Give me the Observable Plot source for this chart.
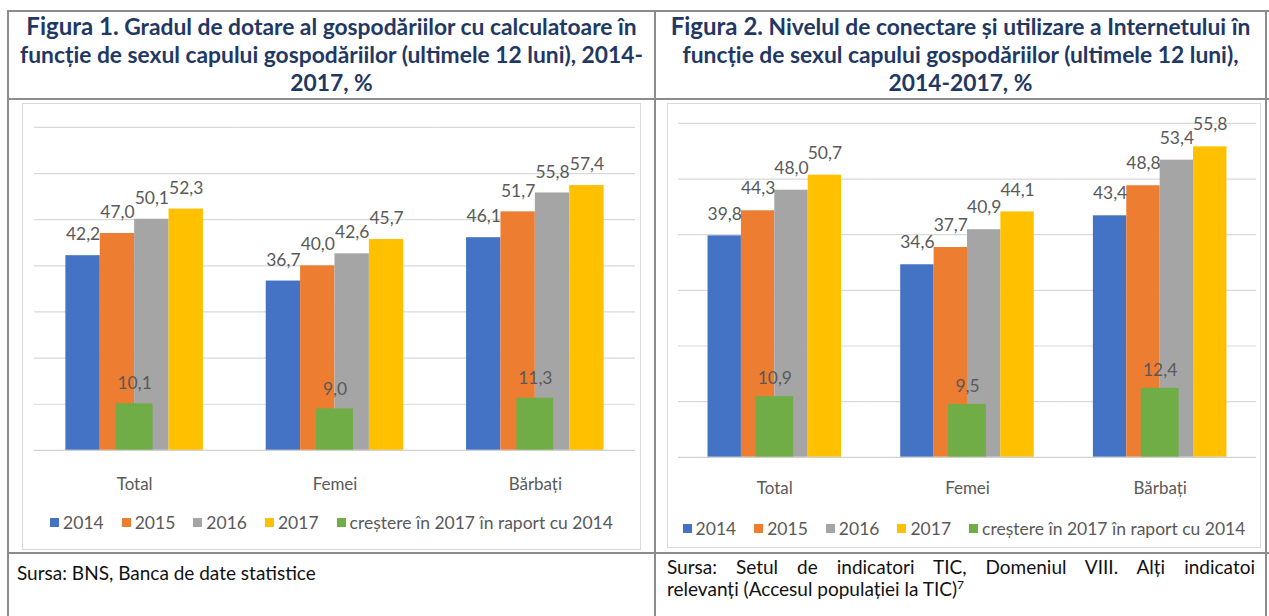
<!DOCTYPE html>
<html><head><meta charset="utf-8">
<script src="https://cdn.jsdelivr.net/npm/d3@7"></script>
<script src="https://cdn.jsdelivr.net/npm/@observablehq/plot@0.6"></script>
<style>
html,body{margin:0;padding:0;background:#fff;}
body{position:relative;width:1269px;height:616px;overflow:hidden;font-family:Lato,"Open Sans",sans-serif;}
.hl,.vl{position:absolute;background:#8c8c8c;}
.hl{height:2px;} .vl{width:2px;}
.title{position:absolute;color:#1F3864;font-weight:700;text-align:center;white-space:nowrap;font-size:22.8px;line-height:28px;}
.title .fig{font-size:24px;}
.box{position:absolute;box-sizing:border-box;border:1px solid #d9d9d9;background:#fff;}
.box svg{position:absolute;left:0;top:0;}
.legend{position:absolute;left:0;right:0;height:22px;display:flex;justify-content:center;align-items:center;color:#595959;font-size:17.5px;white-space:nowrap;}
.legend .it{display:flex;align-items:center;margin:0 9px;}
.legend .sw{width:9px;height:9px;margin-right:4px;}
.src{position:absolute;color:#111;font-size:19px;line-height:22px;white-space:nowrap;}
</style></head><body>
<div class="hl" style="left:7px;top:10px;width:1262px"></div>
<div class="hl" style="left:7px;top:98px;width:1262px"></div>
<div class="hl" style="left:7px;top:552px;width:1262px"></div>
<div class="vl" style="left:7px;top:10px;height:606px"></div>
<div class="vl" style="left:654px;top:10px;height:606px"></div>
<div class="vl" style="left:1265px;top:10px;height:606px"></div>

<div class="title" style="left:9px;width:645px;top:12px"><span class="fig">Figura 1.</span> Gradul de dotare al gospodăriilor cu calculatoare în<br>funcție de sexul capului gospodăriilor (ultimele 12 luni), 2014-<br>2017, %</div>
<div class="title" style="left:656px;width:609px;top:12px"><span class="fig">Figura 2.</span> Nivelul de conectare și utilizare a Internetului în<br>funcție de sexul capului gospodăriilor (ultimele 12 luni),<br>2014-2017, %</div>

<div class="box" id="box1" style="left:22px;top:103px;width:619px;height:447px"></div>
<div class="box" id="box2" style="left:667px;top:103px;width:594px;height:445px"></div>

<div class="src" style="left:17px;top:562px">Sursa: BNS, Banca de date statistice</div>
<div class="src" style="left:667px;top:556px;width:588px;text-align:justify;text-align-last:justify">Sursa: Setul de indicatori TIC, Domeniul VIII. Alți indicatoi</div>
<div class="src" style="left:667px;top:578px">relevanți (Accesul populației la TIC)<sup style="font-size:12px;line-height:0">7</sup></div>

<script>
// ---- data ----
const categories = ["Total", "Femei", "Bărbați"];
const years = ["2014", "2015", "2016", "2017"];
const growthLabel = "creștere în 2017 în raport cu 2014";

const fig1Y2014 = [42.2, 36.7, 46.1];
const fig1Y2015 = [47.0, 40.0, 51.7];
const fig1Y2016 = [50.1, 42.6, 55.8];
const fig1Y2017 = [52.3, 45.7, 57.4];
const fig1Growth = [10.1, 9.0, 11.3];
const fig1Ticks = [0, 10, 20, 30, 40, 50, 60, 70];

const fig2Y2014 = [39.8, 34.6, 43.4];
const fig2Y2015 = [44.3, 37.7, 48.8];
const fig2Y2016 = [48.0, 40.9, 53.4];
const fig2Y2017 = [50.7, 44.1, 55.8];
const fig2Growth = [10.9, 9.5, 12.4];
const fig2Ticks = [0, 10, 20, 30, 40, 50, 60];

// ---- styles ----
const yearColors = ["#4472C4", "#ED7D31", "#A5A5A5", "#FFC000"];
const growthColor = "#70AD47";
const textColor = "#595959";
const fmt = d3.formatLocale({decimal: ",", thousands: ".", grouping: [3], currency: ["", ""]}).format(".1f");

function chart(o) {
  const rows = [];
  o.series.forEach((vals, i) => vals.forEach((v, j) => rows.push({cat: categories[j], year: years[i], value: v})));
  const growth = o.growth.map((v, j) => ({cat: categories[j], value: v}));
  const facetW = (o.width - o.ml - o.mr) / categories.length;
  const gInset = (facetW - o.greenW) / 2;
  return Plot.plot({
    width: o.width, height: o.height,
    marginTop: o.mt, marginBottom: o.mb, marginLeft: o.ml, marginRight: o.mr,
    style: {fontFamily: "Lato, sans-serif", fontSize: "17px", color: textColor, background: "transparent", overflow: "visible"},
    fx: {domain: categories, padding: 0, axis: null, round: false},
    x: {domain: years, axis: null, paddingInner: 0, paddingOuter: o.pad, round: false},
    y: {domain: [0, o.ticks[o.ticks.length - 1]], axis: null},
    color: {domain: years, range: yearColors},
    marks: [
      Plot.ruleY(o.ticks.slice(1), {stroke: "#d9d9d9", strokeWidth: 1.2}),
      Plot.barY(rows, {fx: "cat", x: "year", y: "value", fill: "year"}),
      Plot.barY(growth, {fx: "cat", y: "value", fill: growthColor, insetLeft: gInset, insetRight: gInset}),
      Plot.ruleY([0], {stroke: "#d0d0d0", strokeWidth: 1.2}),
      Plot.text(rows, {fx: "cat", x: "year", y: "value", text: d => fmt(d.value), dy: o.labelDy, fill: textColor, fontSize: 17.5}),
      Plot.text(growth, {fx: "cat", y: "value", text: d => fmt(d.value), dy: o.greenDy, fill: textColor, fontSize: 17.5}),
      Plot.axisFx({anchor: "bottom", tickSize: 0, tickPadding: o.catPad, label: null, fontSize: 17, color: textColor})
    ]
  });
}

function legend(top) {
  const el = document.createElement("div");
  el.className = "legend";
  el.style.top = top + "px";
  const items = years.map((y, i) => [y, yearColors[i]]).concat([[growthLabel, growthColor]]);
  for (const [name, c] of items) {
    const it = document.createElement("div");
    it.className = "it";
    const sw = document.createElement("div");
    sw.className = "sw"; sw.style.background = c;
    const t = document.createElement("span");
    t.textContent = name;
    it.append(sw, t);
    el.append(it);
  }
  return el;
}

const box1 = document.getElementById("box1");
box1.append(chart({
  series: [fig1Y2014, fig1Y2015, fig1Y2016, fig1Y2017], growth: fig1Growth, ticks: fig1Ticks,
  width: 619, height: 400, ml: 11, mr: 5, mt: 23, mb: 53, pad: 0.913, greenW: 37,
  labelDy: -21, greenDy: -20, catPad: 28
}));
box1.append(legend(407));

const box2 = document.getElementById("box2");
box2.append(chart({
  series: [fig2Y2014, fig2Y2015, fig2Y2016, fig2Y2017], growth: fig2Growth, ticks: fig2Ticks,
  width: 594, height: 405, ml: 10, mr: 4, mt: 19, mb: 51, pad: 0.885, greenW: 38,
  labelDy: -22, greenDy: -18, catPad: 25
}));
box2.append(legend(413));
</script>
</body></html>
